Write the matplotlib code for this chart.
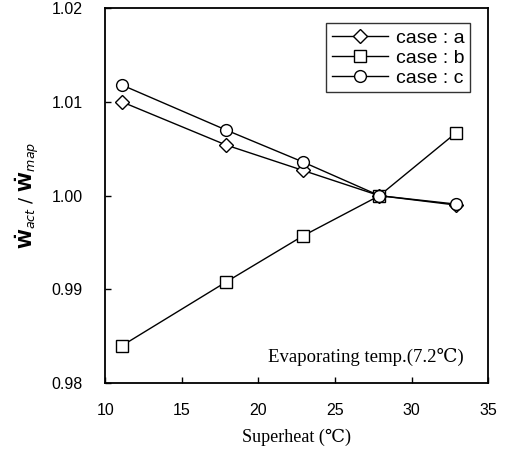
import matplotlib
matplotlib.use("Agg")
import matplotlib.pyplot as plt

superheat = [11.1, 17.9, 22.9, 27.9, 32.9]
caseA = [1.0100, 1.0054, 1.0027, 1.0000, 0.9990]
caseB = [0.9840, 0.9908, 0.9957, 1.0000, 1.0067]
caseC = [1.0118, 1.0070, 1.0036, 1.0000, 0.9991]
labels = ["case : a", "case : b", "case : c"]
markers = ["D", "s", "o"]
xTicks = [10, 15, 20, 25, 30, 35]
yTicks = [0.98, 0.99, 1.00, 1.01, 1.02]

serif = ["Liberation Serif", "DejaVu Serif"]
sans = ["Liberation Sans", "DejaVu Sans"]

fig = plt.figure(figsize=(5.08, 4.54), dpi=100)
ax = fig.add_axes([0.207, 0.156, 0.754, 0.826])

for ys, lab, mk in zip([caseA, caseB, caseC], labels, markers):
    ms = 7 if mk == "D" else 8.5
    ax.plot(superheat, ys, color="black", lw=1.0, marker=mk, ms=ms,
            mfc="white", mec="black", mew=1.0, label=lab)

ax.set_xlim(10, 35)
ax.set_ylim(0.98, 1.02)
ax.set_xticks(xTicks)
ax.set_yticks(yTicks)
ax.set_xticklabels([str(t) for t in xTicks], family=sans, fontsize=11.5)
ax.set_yticklabels([f"{t:.2f}" for t in yTicks], family=sans, fontsize=11.5)
ax.tick_params(direction="in", length=4, width=1)
ax.tick_params(axis="x", pad=14)
ax.tick_params(axis="y", pad=16)
for s in ax.spines.values():
    s.set_linewidth(1.3)

ax.set_xlabel("Superheat (\u2103)", family=serif, fontsize=13, labelpad=8)
ax.set_ylabel(r"$\mathbf{\dot{W}}_{act}\ /\ \mathbf{\dot{W}}_{map}$", fontsize=13, labelpad=8)

ax.text(0.935, 0.069, "Evaporating temp.(7.2\u2103)", transform=ax.transAxes,
        ha="right", va="center", family=serif, fontsize=13.5)

leg = ax.legend(loc="upper right", bbox_to_anchor=(0.953, 0.96), prop={"family": sans, "size": 14},
                frameon=True, fancybox=False, edgecolor="black", borderpad=0.3,
                handlelength=2.9, handletextpad=0.4, labelspacing=0.12, borderaxespad=0)
leg.get_frame().set_linewidth(1.0)

fig.savefig("out.png", dpi=100)
